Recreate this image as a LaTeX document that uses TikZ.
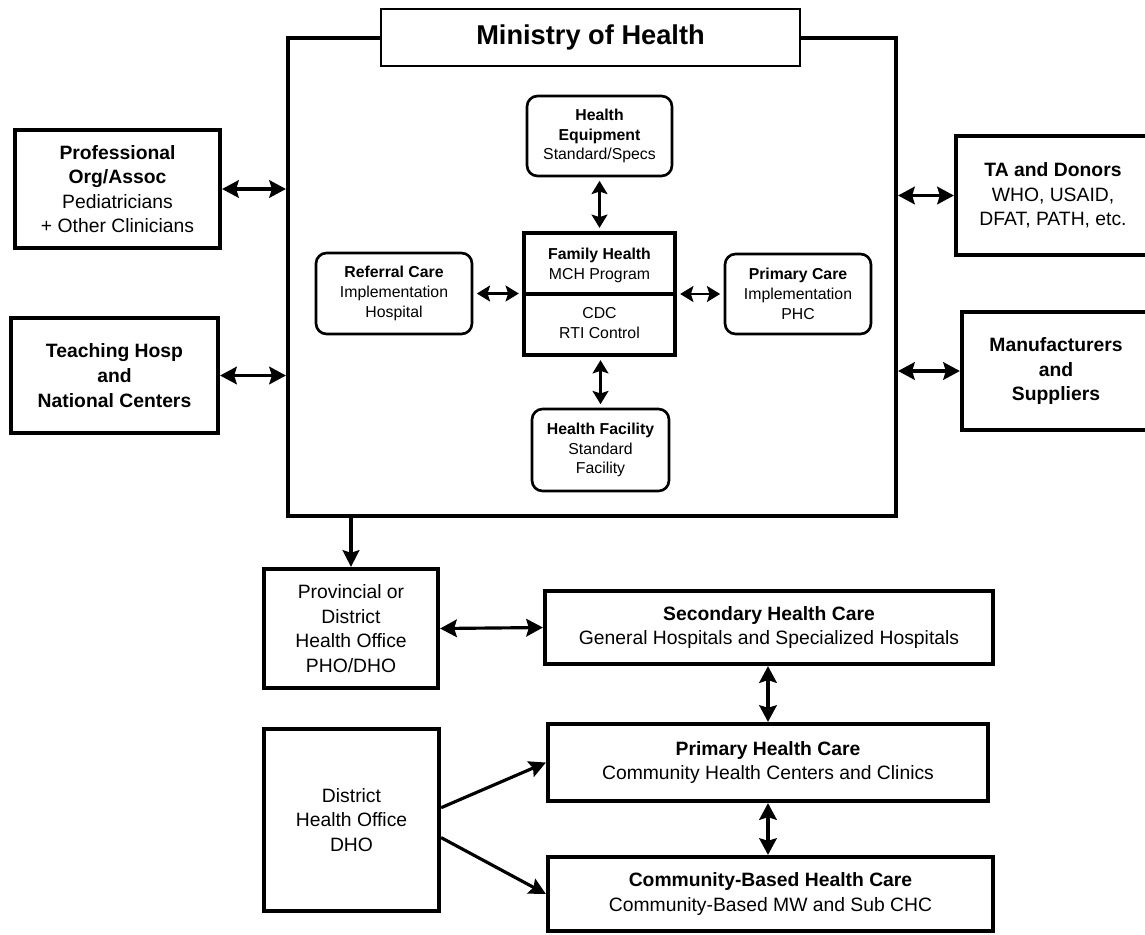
\documentclass[tikz,border=0pt]{standalone}
\usepackage{fontspec}
\setmainfont{Liberation Sans}
\usetikzlibrary{arrows.meta}

\begin{document}
\begin{tikzpicture}[x=0.02cm,y=-0.02cm,
		bigbox/.style={draw,line width=2.4pt,inner sep=0pt,align=center,font=\fontsize{11}{14}\selectfont},
		roundbox/.style={draw,line width=1.5pt,rounded corners=6pt,inner sep=0pt,align=center,font=\fontsize{9}{11.3}\selectfont},
		smalltext/.style={align=center,font=\fontsize{9}{11.3}\selectfont},
		bigarrow/.style={{Stealth[length=9.5pt,width=10pt,inset=1.5pt]}-{Stealth[length=9.5pt,width=10pt,inset=1.5pt]},line width=1.8pt},
		onearrow/.style={-{Stealth[length=9.5pt,width=9.5pt,inset=1.5pt]},line width=1.8pt},
		smallarrow/.style={{Stealth[length=7.5pt,width=9pt,inset=1.4pt]}-{Stealth[length=7.5pt,width=9pt,inset=1.4pt]},line width=1.5pt,shorten <=2pt,shorten >=2pt}]
		\useasboundingbox (0,0) rectangle (1145,934);
		% ministry frame and title
		\node[draw,line width=2.4pt,inner sep=0pt,minimum width=12.16cm,minimum height=9.56cm] (moh) at (592,277) {};
		\node[draw,fill=white,line width=1.1pt,minimum width=8.38cm,minimum height=1.14cm,font=\fontsize{15.5}{18}\selectfont\bfseries] (title) at (590.5,37.5) {Ministry of Health};
		% outside partners
		\node[bigbox,minimum width=4.1cm,minimum height=2.36cm] (prof) at (117.5,189) {\textbf{Professional}\\\textbf{Org/Assoc}\\Pediatricians\\+ Other Clinicians};
		\node[bigbox,minimum width=4.14cm,minimum height=2.3cm,font=\fontsize{11}{14}\selectfont\bfseries] (teach) at (114.5,375.5) {Teaching Hosp\\and\\National Centers};
		\node[bigbox,minimum width=3.88cm,minimum height=2.38cm] (donor) at (1053,195.5) {\textbf{TA and Donors}\\WHO, USAID,\\DFAT, PATH, etc.};
		\node[bigbox,minimum width=3.76cm,minimum height=2.36cm,font=\fontsize{11}{14}\selectfont\bfseries] (manu) at (1056,371) {Manufacturers\\and\\Suppliers};
		% inside the ministry
		\node[roundbox,minimum width=2.9cm,minimum height=1.6cm] (equip) at (599.5,136) {\textbf{Health}\\\textbf{Equipment}\\Standard/Specs};
		\node[draw,line width=1.9pt,inner sep=0pt,minimum width=3.02cm,minimum height=2.44cm] (core) at (599.5,294) {};
		\draw[line width=1.9pt] (core.west) -- (core.east);
		\node[smalltext] (famh) at (599.5,265) {\textbf{Family Health}\\MCH Program};
		\node[smalltext] (cdc) at (599.5,323) {CDC\\RTI Control};
		\node[roundbox,minimum width=3.12cm,minimum height=1.62cm] (refer) at (394,293.5) {\textbf{Referral Care}\\Implementation\\Hospital};
		\node[roundbox,minimum width=2.92cm,minimum height=1.6cm] (pcare) at (798,294) {\textbf{Primary Care}\\Implementation\\PHC};
		\node[roundbox,minimum width=2.74cm,minimum height=1.64cm] (facil) at (600.5,450) {\textbf{Health Facility}\\Standard\\Facility};
		% lower levels
		\node[bigbox,minimum width=3.48cm,minimum height=2.38cm] (pho) at (351,628.5) {Provincial or\\District\\Health Office\\PHO/DHO};
		\node[bigbox,minimum width=8.96cm,minimum height=1.46cm] (sec) at (769,627.5) {\textbf{Secondary Health Care}\\General Hospitals and Specialized Hospitals};
		\node[bigbox,minimum width=8.8cm,minimum height=1.54cm] (phc) at (768,762.5) {\textbf{Primary Health Care}\\Community Health Centers and Clinics};
		\node[bigbox,minimum width=8.9cm,minimum height=1.48cm] (cbhc) at (770.5,894) {\textbf{Community-Based Health Care}\\Community-Based MW and Sub CHC};
		\node[bigbox,minimum width=3.5cm,minimum height=3.64cm] (dho) at (351.5,820) {District\\Health Office\\DHO};
		% arrows
		\draw[bigarrow] (prof.east) -- (prof.east -| moh.west);
		\draw[bigarrow] (teach.east) -- (teach.east -| moh.west);
		\draw[bigarrow] (donor.west -| moh.east) -- (donor.west);
		\draw[bigarrow] (manu.west -| moh.east) -- (manu.west);
		\draw[smallarrow] (equip.south) -- (equip.south |- core.north);
		\draw[smallarrow] (facil.north |- core.south) -- (facil.north);
		\draw[smallarrow] (refer.east) -- (refer.east -| core.west);
		\draw[smallarrow] (pcare.west -| core.east) -- (pcare.west);
		\draw[onearrow] (moh.south -| pho.north) -- (pho.north);
		\draw[bigarrow] (pho.east) -- (sec.west);
		\draw[bigarrow] (sec.south -| phc.north) -- (phc.north);
		\draw[bigarrow] (phc.south) -- (phc.south |- cbhc.north);
		\draw[onearrow] ([yshift=7pt]dho.east) -- (phc.west);
		\draw[onearrow] ([yshift=-10pt]dho.east) -- (cbhc.west);
\end{tikzpicture}
\end{document}
